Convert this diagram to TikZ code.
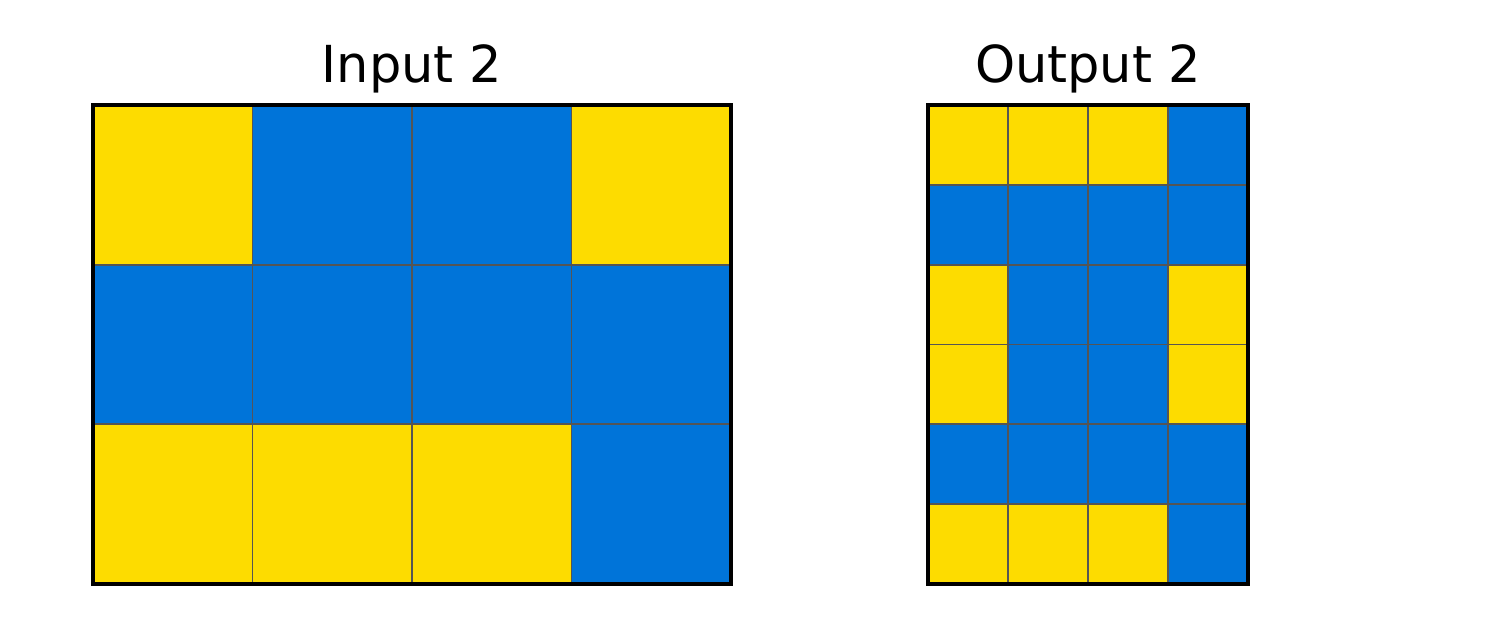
\documentclass[tikz,border=0pt]{standalone}
\usepackage{fontspec}
\setsansfont{DejaVu Sans}
\usepackage{tikz}
\usepackage{xcolor}
\definecolor{arcY}{HTML}{FDDC00}
\definecolor{arcB}{HTML}{0074D9}
\definecolor{gridgray}{HTML}{555555}

\begin{document}
\begin{tikzpicture}[x=0.01cm, y=-0.01cm,
  cell/.style={draw=gridgray, line width=0.5pt},
  frame/.style={draw=black, line width=0.9pt},
  title/.style={font=\sffamily\fontsize{14.5}{17}\selectfont, anchor=base, inner sep=0pt}]
\useasboundingbox (0,0) rectangle (1500,629);

\node[title] (intitle) at (412,82) {Input 2};
\node[title] (outtitle) at (1088,82) {Output 2};

% input grid, 3 x 4
\foreach \c [count=\i from 0] in {Y,B,B,Y, B,B,B,B, Y,Y,Y,B} {
  \pgfmathtruncatemacro\col{mod(\i,4)}
  \pgfmathtruncatemacro\row{div(\i,4)}
  \fill[arc\c] ({93+\col*159.5},{105+\row*159.67}) rectangle ++(159.5,159.67);
  \draw[cell] ({93+\col*159.5},{105+\row*159.67}) rectangle ++(159.5,159.67);
}
\draw[frame] (93,105) rectangle (731,584);

% output grid, 6 x 4
\foreach \c [count=\i from 0] in {Y,Y,Y,B, B,B,B,B, Y,B,B,Y, Y,B,B,Y, B,B,B,B, Y,Y,Y,B} {
  \pgfmathtruncatemacro\col{mod(\i,4)}
  \pgfmathtruncatemacro\row{div(\i,4)}
  \fill[arc\c] ({928+\col*80},{105+\row*79.83}) rectangle ++(80,79.83);
  \draw[cell] ({928+\col*80},{105+\row*79.83}) rectangle ++(80,79.83);
}
\draw[frame] (928,105) rectangle (1248,584);
\end{tikzpicture}
\end{document}
